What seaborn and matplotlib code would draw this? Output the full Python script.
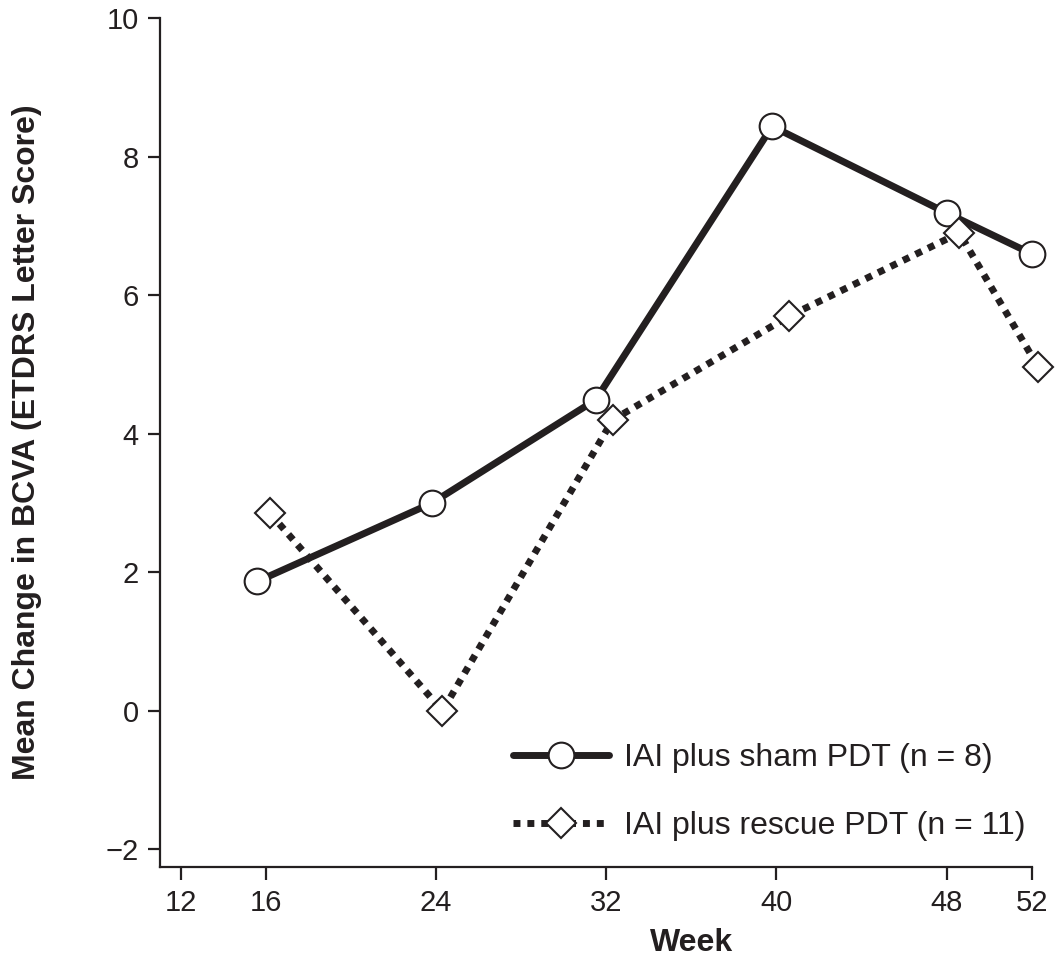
import matplotlib
matplotlib.use("Agg")
import matplotlib.pyplot as plt
import seaborn as sns

# values (weeks are slightly dodged per group)
sham_weeks = [15.6, 23.8, 31.5, 39.8, 48.0, 52.0]
sham_change = [1.87, 3.0, 4.49, 8.44, 7.19, 6.6]
rescue_weeks = [16.2, 24.3, 32.3, 40.6, 48.6, 52.3]
rescue_change = [2.85, 0.0, 4.2, 5.7, 6.9, 4.97]

sham_label = "IAI plus sham PDT (n = 8)"
rescue_label = "IAI plus rescue PDT (n = 11)"
x_ticks = [12, 16, 24, 32, 40, 48, 52]
y_ticks = [-2, 0, 2, 4, 6, 8, 10]

ink = "#231f20"

sns.set_theme(style="ticks")
plt.rcParams["font.family"] = ["Liberation Sans", "DejaVu Sans"]

fig, ax = plt.subplots(figsize=(10.57, 9.63), dpi=100)
fig.subplots_adjust(left=0.151, right=0.976, top=0.981, bottom=0.1)

# solid line with open circles
sns.lineplot(x=sham_weeks, y=sham_change, ax=ax, color=ink, linewidth=5,
             marker="o", markersize=18.5, markerfacecolor="white",
             markeredgecolor=ink, markeredgewidth=1.5, label=sham_label,
             clip_on=False)

# dotted line with open diamonds
sns.lineplot(x=rescue_weeks, y=rescue_change, ax=ax, color=ink, linewidth=5,
             linestyle=(0, (1, 1)), marker="D", markersize=15.5,
             markerfacecolor="white", markeredgecolor=ink, markeredgewidth=1.5,
             label=rescue_label, clip_on=False)

ax.set_xlim(11, 52)
ax.set_ylim(-2.25, 10)
ax.set_xticks(x_ticks)
ax.set_yticks(y_ticks)
sns.despine(ax=ax)

for side in ["left", "bottom"]:
    ax.spines[side].set_linewidth(1.6)
    ax.spines[side].set_color(ink)
ax.tick_params(axis="both", length=9, width=1.6, color=ink,
               labelsize=21, labelcolor=ink)
ax.tick_params(axis="y", pad=6)
ax.tick_params(axis="x", pad=7)

ax.set_xlabel("Week", fontsize=23, fontweight="bold", color=ink)
ax.set_ylabel("Mean Change in BCVA (ETDRS Letter Score)", fontsize=23,
              fontweight="bold", color=ink)
ax.xaxis.set_label_coords(0.61, -0.072)
ax.yaxis.set_label_coords(-0.135, 0.5)

ax.legend(loc="upper left", bbox_to_anchor=(0.405, 0.146), frameon=False,
          fontsize=23, handlelength=3.0, handletextpad=0.47, labelspacing=1.2,
          borderpad=0, borderaxespad=0, numpoints=1, labelcolor=ink)

plt.savefig("out.png", dpi=100)
